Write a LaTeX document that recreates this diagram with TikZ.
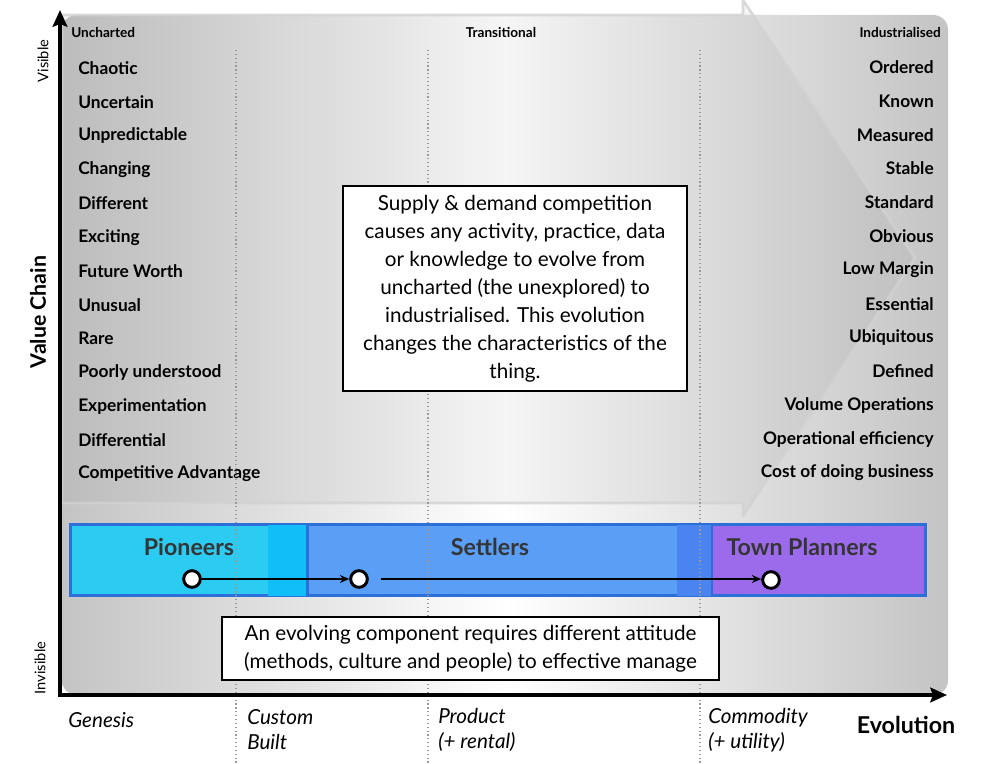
\documentclass[tikz,border=0pt]{standalone}
\usepackage{fontspec}
\setmainfont{Lato}
\usetikzlibrary{positioning, arrows.meta}

\definecolor{pioncyan}{HTML}{2CCBF2}
\definecolor{pionover}{HTML}{12BEF8}
\definecolor{settblue}{HTML}{5A9EF5}
\definecolor{settover}{HTML}{4A84F0}
\definecolor{townpurple}{HTML}{9B6BEC}
\definecolor{bandedge}{HTML}{2C6FD8}
\definecolor{bandtext}{HTML}{353535}
\definecolor{bggray}{HTML}{C4C4C4}

\tikzset{
    axis/.style={line width=3pt, -{Stealth[length=12.5pt, width=11pt, inset=2pt]}},
    stageline/.style={gray!80, dotted, line width=0.9pt},
    item/.style={font=\fontsize{13}{15}\selectfont\bfseries, inner sep=0pt},
    phase/.style={font=\fontsize{10.2}{12}\selectfont\bfseries, inner sep=0pt},
    stagename/.style={font=\fontsize{15.5}{18.75}\selectfont\itshape, align=left, anchor=west, inner sep=0pt},
    notebox/.style={draw=black, fill=white, line width=0.8pt, align=center, font=\fontsize{15.5}{21}\selectfont},
    bandbox/.style={draw=bandedge, line width=2.25pt, minimum height=53pt, inner sep=0pt},
    bandlabel/.style={font=\fontsize{17.4}{20}\selectfont\bfseries, text=bandtext},
    stage/.style={circle, draw=black, fill=white, line width=2.2pt, minimum size=12.5pt, inner sep=0pt},
    flow/.style={line width=1.1pt, -{Stealth[length=7pt, width=6pt]}}
}

\begin{document}
\begin{tikzpicture}[x=0.75pt, y=-0.75pt]
    \useasboundingbox (0,0) rectangle (984,763);

    % background and evolution arrow
    \shade[left color=bggray, right color=bggray, middle color=white, rounded corners=11pt]
        (62,15) rectangle (948,695);
    \draw[fill=black, fill opacity=0.04, draw=gray!35, draw opacity=0.8, line width=2pt, line join=round]
        (62,15) -- (743,15) -- (743,0) -- (915,258) -- (743,516) -- (743,503) -- (62,503) -- cycle;

    % phases
    \node[phase, anchor=west] (uncharted) at (71,33) {Uncharted};
    \node[phase] (transitional) at (501,33) {Transitional};
    \node[phase, anchor=east] (industrialised) at (941,33) {Industrialised};

    % characteristics
    \foreach \txt [count=\i from 0] in {Chaotic, Uncertain, Unpredictable, Changing, Different, Exciting,
        Future Worth, Unusual, Rare, Poorly understood, Experimentation, Differential, Competitive Advantage}
        \node[item, anchor=west] (left\i) at (78, 68+33.83*\i) {\txt};
    \foreach \txt [count=\i from 0] in {Ordered, Known, Measured, Stable, Standard, Obvious, Low Margin,
        Essential, Ubiquitous, Defined, Volume Operations, Operational efficiency, Cost of doing business}
        \node[item, anchor=east] (right\i) at (934, 67+33.83*\i) {\txt};

    % band of attitudes
    \node[bandbox, fill=townpurple, minimum width=186pt] (planners) at (801,560) {};
    \node[bandbox, fill=settblue, minimum width=333pt] (settlers) at (489.5,560) {};
    \fill[settover] (677,524.5) rectangle (710.5,595.5);
    \node[bandbox, fill=pioncyan, minimum width=177.75pt] (pioneers) at (188.5,560) {};
    \fill[pionover] (268,524.5) rectangle (305.5,595.5);

    % stage lines
    \foreach \x in {236, 428, 700}
        \draw[stageline] (\x,50) -- (\x,763);

    \node[bandlabel] (pionlbl) at (189,547) {Pioneers};
    \node[bandlabel] (settlbl) at (490,547) {Settlers};
    \node[bandlabel] (townlbl) at (802,547) {Town Planners};

    \node[stage] (c1) at (192,579) {};
    \node[stage] (c2) at (359,579) {};
    \node[stage] (c3) at (771,580) {};
    \draw[flow] (c1) -- (c2);
    \draw[flow] ([xshift=9pt]c2.east) -- (c3.west |- c2.east);

    % notes
    \node[notebox, minimum width=258pt, minimum height=153.75pt] (supply) at (515,288.5)
        {Supply \& demand competition\\causes any activity, practice, data\\or knowledge to evolve from\\
         uncharted (the unexplored) to\\industrialised. This evolution\\changes the characteristics of the\\thing.};
    \node[notebox, minimum width=372.75pt, minimum height=47.25pt] (attitude) at (470.5,648.5)
        {An evolving component requires different attitude\\(methods, culture and people) to effective manage};

    % axes
    \coordinate (origin) at (60,695);
    \coordinate (ytop) at (60,10);
    \coordinate (xend) at (947,695);
    \draw[axis] ([yshift=-1.5pt]origin) -- (ytop);
    \draw[axis] ([xshift=-1.5pt]origin) -- (xend);

    \node[rotate=90, font=\fontsize{16}{18}\selectfont\bfseries] (valuechain) at (38,312) {Value Chain};
    \node[rotate=90, font=\fontsize{11}{13}\selectfont] (visible) at (43,61) {Visible};
    \node[rotate=90, font=\fontsize{11}{13}\selectfont] (invisible) at (40,668) {Invisible};

    \node[stagename] (genesis) at (68,720) {Genesis};
    \node[stagename] (custom) at (247,729.5) {Custom\\Built};
    \node[stagename] (product) at (438,729.5) {Product\\(+ rental)};
    \node[stagename] (commodity) at (708,730.5) {Commodity\\(+ utility)};
    \node[font=\fontsize{17.4}{20}\selectfont\bfseries] (evolution) at (906,725) {Evolution};
\end{tikzpicture}
\end{document}
